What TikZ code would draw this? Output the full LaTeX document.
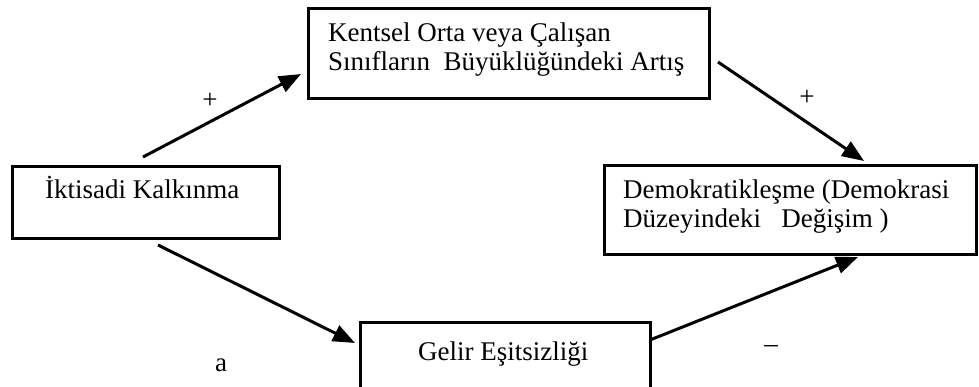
\documentclass[tikz,border=0pt]{standalone}
\usepackage{fontspec}
\setmainfont{Liberation Serif}
\usetikzlibrary{arrows.meta}
\begin{document}
\begin{tikzpicture}[x=1pt,y=-1pt,
  box/.style={draw, line width=2.6pt, rectangle, inner sep=0pt, anchor=north west},
  txt/.style={font=\fontsize{27}{29.5}\selectfont, align=left, inner sep=0pt, anchor=base west},
  conn/.style={line width=3pt, -{Triangle[length=22pt,width=17pt]}},
  lbl/.style={font=\fontsize{27}{30}\selectfont, inner sep=0pt}]
\useasboundingbox (0,0) rectangle (979,387);
% boxes
\node[box, minimum width=401pt, minimum height=90pt] (top) at (307,7) {};
\node[box, minimum width=267pt, minimum height=72pt] (left) at (11,165) {};
\node[box, minimum width=372pt, minimum height=89pt] (right) at (603,164) {};
\node[box, minimum width=290pt, minimum height=70pt] (bot) at (359,321) {};
% texts (anchor = baseline of last line)
\node[txt] (ttop) at (328,71) {Kentsel Orta veya Çalışan\\Sınıfların\ \ Büyüklüğündeki Artış};
\node[txt] (tleft) at (45,199) {İktisadi Kalkınma};
\node[txt] (tright) at (623,228) {Demokratikleşme (Demokrasi\\Düzeyindeki\ \ \ Değişim )};
\node[txt] (tbot) at (418,360) {Gelir Eşitsizliği};
% connector ends
\coordinate (s1) at (143,157);
\coordinate (e1) at (301,74);
\coordinate (s2) at (718,62);
\coordinate (e2) at (864,161);
\coordinate (s3) at (158,245);
\coordinate (e3) at (355,343);
\coordinate (s4) at (650,340);
\coordinate (e4) at (858,257);
\draw[conn] (s1) -- (e1);
\draw[conn] (s2) -- (e2);
\draw[conn] (s3) -- (e3);
\draw[conn] (s4) -- (e4);
% labels
\node[lbl] (p1) at (210,101) {+};
\node[lbl] (p2) at (807,98) {+};
\node[lbl, anchor=base] (la) at (221,371) {a};
\node[lbl] (lm) at (771,349) {–};
\end{tikzpicture}
\end{document}
